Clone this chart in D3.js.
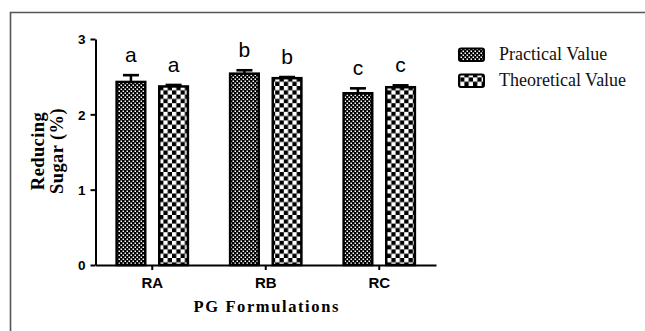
<!DOCTYPE html>
<html>
<head>
<meta charset="utf-8">
<script src="https://cdn.jsdelivr.net/npm/d3@7"></script>
<style>
  html, body { margin: 0; padding: 0; background: #fff; }
  svg { display: block; }
</style>
</head>
<body>
<svg id="chart" width="645" height="331"></svg>
<script>
// ---- data ----
const categories = ["RA", "RB", "RC"];
const seriesNames = ["Practical Value", "Theoretical Value"];
const practicalValues = [2.43, 2.54, 2.28];
const practicalErrors = [0.09, 0.045, 0.065];
const theoreticalValues = [2.37, 2.48, 2.36];
const theoreticalErrors = [0.02, 0.015, 0.025];
const groupLetters = ["a", "b", "c"];
const yTickValues = [0, 1, 2, 3];
const yTitleLines = ["Reducing", "Sugar (%)"];
const xTitle = "PG Formulations";

const svg = d3.select("#chart");
svg.append("rect").attr("width", 645).attr("height", 331).attr("fill", "#fff");

// frame
svg.append("path").attr("d", "M10.5,331 V12.5 H645")
  .attr("fill", "none").attr("stroke", "#555").attr("stroke-width", 1.6);

// patterns
const defs = svg.append("defs");
const pDot = defs.append("pattern").attr("id", "pDot").attr("patternUnits", "userSpaceOnUse")
  .attr("width", 4).attr("height", 4);
pDot.append("rect").attr("width", 4).attr("height", 4).attr("fill", "#000");
pDot.append("rect").attr("x", 0.5).attr("y", 0.5).attr("width", 1.5).attr("height", 1.5).attr("fill", "#fff");
pDot.append("rect").attr("x", 2.5).attr("y", 2.5).attr("width", 1.5).attr("height", 1.5).attr("fill", "#fff");

const pChk = defs.append("pattern").attr("id", "pChk").attr("patternUnits", "userSpaceOnUse")
  .attr("width", 8.6).attr("height", 8.6);
pChk.append("rect").attr("width", 8.6).attr("height", 8.6).attr("fill", "#000");
pChk.append("rect").attr("x", 0).attr("y", 0).attr("width", 4.3).attr("height", 4.3).attr("fill", "#fff");
pChk.append("rect").attr("x", 4.3).attr("y", 4.3).attr("width", 4.3).attr("height", 4.3).attr("fill", "#fff");

const fills = ["url(#pDot)", "url(#pChk)"];

// scales
const x0 = d3.scaleBand().domain(categories).range([95.5, 436]).paddingInner(0.35).paddingOuter(0.175);
const x1 = d3.scaleBand().domain(seriesNames).range([0, x0.bandwidth()]).paddingInner(0.27).paddingOuter(0);
const y = d3.scaleLinear().domain([0, 3]).range([265, 39]);

const rows = [];
categories.forEach((c, i) => {
  rows.push({cat: c, s: seriesNames[0], si: 0, v: practicalValues[i], e: practicalErrors[i], letter: groupLetters[i]});
  rows.push({cat: c, s: seriesNames[1], si: 1, v: theoreticalValues[i], e: theoreticalErrors[i], letter: groupLetters[i]});
});

const sw = 2.5;
const bw = x1.bandwidth();

// error bars
const eb = svg.append("g");
rows.forEach(d => {
  const cx = x0(d.cat) + x1(d.s) + bw / 2;
  eb.append("line").attr("x1", cx).attr("x2", cx).attr("y1", y(d.v)).attr("y2", y(d.v + d.e))
    .attr("stroke", "#000").attr("stroke-width", 2.5);
  eb.append("line").attr("x1", cx - 8).attr("x2", cx + 8).attr("y1", y(d.v + d.e)).attr("y2", y(d.v + d.e))
    .attr("stroke", "#000").attr("stroke-width", 2.6);
});

// bars
svg.append("g").selectAll("rect").data(rows).join("rect")
  .attr("x", d => x0(d.cat) + x1(d.s) + sw / 2)
  .attr("width", bw - sw)
  .attr("y", d => y(d.v))
  .attr("height", d => y(0) - y(d.v))
  .attr("fill", d => fills[d.si])
  .attr("stroke", "#000").attr("stroke-width", sw);

// letters
svg.append("g").selectAll("text").data(rows).join("text")
  .attr("x", d => x0(d.cat) + x1(d.s) + bw / 2)
  .attr("y", d => y(d.v + d.e) - 13)
  .attr("text-anchor", "middle")
  .attr("font-family", "Liberation Sans, Arial, sans-serif")
  .attr("font-size", 21)
  .text(d => d.letter);

// axes
const yAxis = svg.append("g").attr("transform", "translate(95.5,0)")
  .call(d3.axisLeft(y).tickValues(yTickValues).tickFormat(d3.format("d")).tickSize(5).tickSizeOuter(0));
const xAxis = svg.append("g").attr("transform", "translate(0,265)")
  .call(d3.axisBottom(x0).tickSize(5).tickSizeOuter(0));
[yAxis, xAxis].forEach(g => {
  g.select(".domain").attr("stroke", "#000").attr("stroke-width", 2);
  g.selectAll(".tick line").attr("stroke", "#000").attr("stroke-width", 2);
  g.selectAll(".tick text").attr("fill", "#000")
    .attr("font-family", "Liberation Sans, Arial, sans-serif")
    .attr("font-weight", "bold");
});
yAxis.selectAll(".tick text").attr("x", -10).attr("dy", "0.36em").attr("font-size", 13.5);
xAxis.selectAll(".tick text").attr("y", 12).attr("dy", "0.71em").attr("font-size", 15);

// axis titles
const serif = "Liberation Serif, Times New Roman, serif";
svg.append("text").attr("x", (95.5 + 436) / 2 + 1).attr("y", 311.5)
  .attr("text-anchor", "middle").attr("font-family", serif).attr("font-weight", "bold")
  .attr("font-size", 16.5).attr("letter-spacing", 1.6).text(xTitle);

yTitleLines.forEach((t, i) => {
  svg.append("text").attr("transform", `translate(${44 + i * 19},151) rotate(-90)`)
    .attr("text-anchor", "middle").attr("font-family", serif).attr("font-weight", "bold")
    .attr("font-size", 18.5).attr("letter-spacing", 0.4).text(t);
});

// legend
const lg = svg.append("g");
seriesNames.forEach((s, i) => {
  const yy = 48.5 + i * 26;
  lg.append("rect").attr("x", 459).attr("y", yy).attr("width", 25).attr("height", 12.5).attr("rx", 2)
    .attr("fill", fills[i]).attr("stroke", "#000").attr("stroke-width", 2);
  lg.append("text").attr("x", 499).attr("y", yy + 11).attr("font-family", serif)
    .attr("font-size", 18).attr("fill", "#111").text(s);
});
</script>
</body>
</html>
